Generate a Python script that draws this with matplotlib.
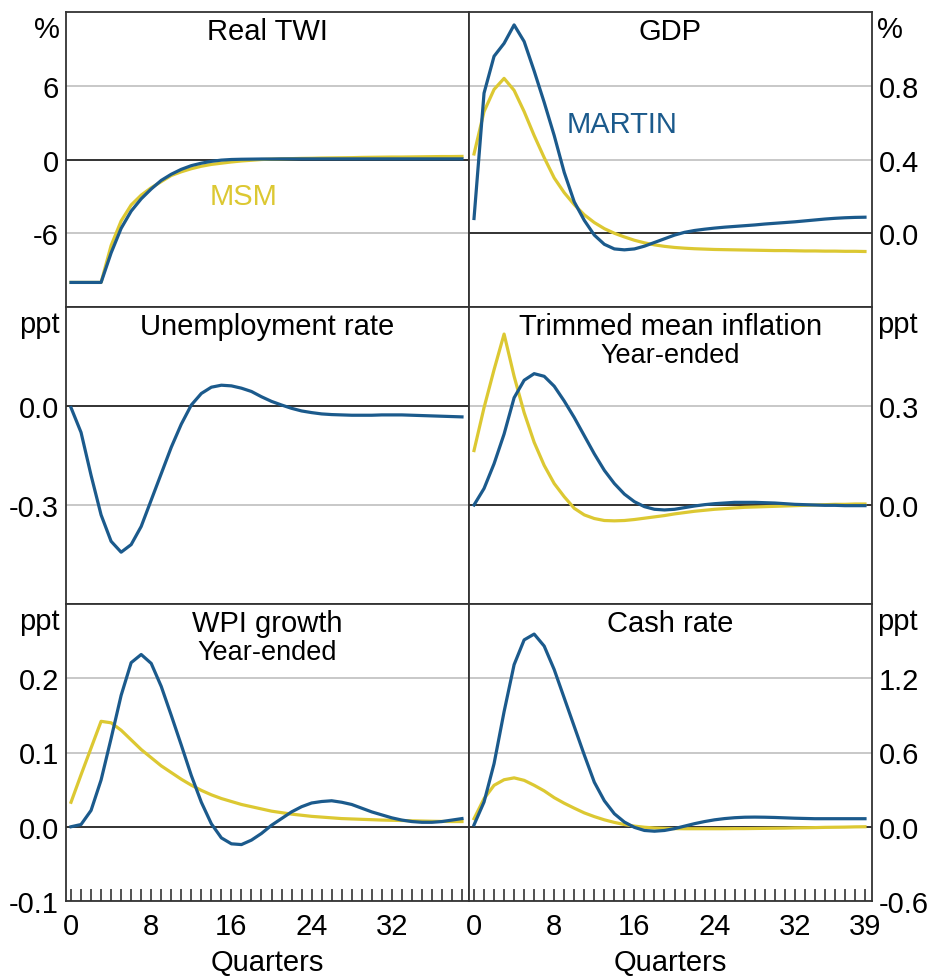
import numpy as np
import matplotlib
matplotlib.use("Agg")
import matplotlib.pyplot as plt

plt.rcParams['font.family'] = ['Liberation Sans', 'DejaVu Sans']

# Quarters after the shock
quarters = list(range(40))

# Real TWI (%)
twi_martin = [-10.0, -10.0, -10.0, -10.0, -7.6, -5.6, -4.2, -3.2, -2.4, -1.7,
              -1.2, -0.8, -0.5, -0.3, -0.15, -0.05, 0.0, 0.02, 0.03, 0.04,
              0.04, 0.05, 0.05, 0.05, 0.05, 0.05, 0.05, 0.05, 0.05, 0.05,
              0.05, 0.05, 0.05, 0.05, 0.05, 0.05, 0.05, 0.05, 0.05, 0.05]
twi_msm = [-10.0, -10.0, -10.0, -10.0, -7.0, -5.0, -3.7, -2.9, -2.3, -1.8,
           -1.3, -1.0, -0.75, -0.55, -0.4, -0.3, -0.2, -0.12, -0.06, 0.0,
           0.03, 0.05, 0.07, 0.09, 0.1, 0.12, 0.13, 0.14, 0.15, 0.17,
           0.18, 0.19, 0.2, 0.2, 0.21, 0.22, 0.23, 0.24, 0.24, 0.25]

# GDP (%)
gdp_martin = [0.08, 0.76, 0.96, 1.03, 1.13, 1.04, 0.88, 0.71, 0.53, 0.33,
              0.17, 0.07, -0.01, -0.06, -0.085, -0.09, -0.085, -0.07, -0.05, -0.03,
              -0.01, 0.005, 0.015, 0.022, 0.028, 0.033, 0.037, 0.041, 0.045, 0.05,
              0.054, 0.058, 0.062, 0.067, 0.072, 0.077, 0.081, 0.084, 0.086, 0.087]
gdp_msm = [0.43, 0.66, 0.78, 0.84, 0.775, 0.66, 0.53, 0.41, 0.3, 0.22,
           0.155, 0.1, 0.058, 0.025, 0.0, -0.02, -0.038, -0.052, -0.063, -0.071,
           -0.077, -0.081, -0.084, -0.086, -0.088, -0.089, -0.09, -0.091, -0.092, -0.093,
           -0.094, -0.094, -0.095, -0.096, -0.096, -0.097, -0.097, -0.098, -0.098, -0.099]

# Unemployment rate (ppt)
unemp_martin = [-0.005, -0.08, -0.21, -0.33, -0.41, -0.443, -0.42, -0.365, -0.285, -0.205,
                -0.125, -0.055, 0.003, 0.038, 0.057, 0.063, 0.061, 0.054, 0.044, 0.028,
                0.014, 0.003, -0.007, -0.015, -0.02, -0.024, -0.026, -0.027, -0.028, -0.028,
                -0.028, -0.027, -0.027, -0.027, -0.028, -0.029, -0.03, -0.031, -0.032, -0.033]

# Trimmed mean inflation, year-ended (ppt)
infl_martin = [0.0, 0.05, 0.125, 0.215, 0.325, 0.378, 0.398, 0.39, 0.36, 0.315,
               0.265, 0.21, 0.155, 0.105, 0.065, 0.033, 0.01, -0.005, -0.013, -0.015,
               -0.013, -0.008, -0.003, 0.001, 0.004, 0.006, 0.008, 0.008, 0.008, 0.007,
               0.006, 0.004, 0.002, 0.001, 0.0, -0.001, -0.001, -0.002, -0.002, -0.002]
infl_msm = [0.165, 0.295, 0.41, 0.518, 0.39, 0.28, 0.19, 0.12, 0.065, 0.025,
            -0.01, -0.03, -0.041, -0.047, -0.048, -0.047, -0.044, -0.04, -0.036, -0.032,
            -0.027, -0.023, -0.019, -0.016, -0.013, -0.011, -0.009, -0.007, -0.006, -0.005,
            -0.004, -0.003, -0.002, -0.001, 0.0, 0.001, 0.002, 0.002, 0.003, 0.003]

# WPI growth, year-ended (ppt)
wpi_martin = [0.0, 0.003, 0.022, 0.063, 0.119, 0.177, 0.221, 0.232, 0.22, 0.189,
              0.15, 0.11, 0.069, 0.033, 0.004, -0.015, -0.023, -0.024, -0.018, -0.009,
              0.002, 0.011, 0.02, 0.027, 0.032, 0.034, 0.035, 0.033, 0.03, 0.025,
              0.02, 0.016, 0.012, 0.009, 0.007, 0.006, 0.006, 0.007, 0.009, 0.011]
wpi_msm = [0.033, 0.07, 0.106, 0.142, 0.14, 0.13, 0.117, 0.104, 0.093, 0.082,
           0.073, 0.064, 0.056, 0.049, 0.043, 0.038, 0.034, 0.03, 0.027, 0.024,
           0.021, 0.019, 0.017, 0.0155, 0.014, 0.013, 0.012, 0.011, 0.0105, 0.01,
           0.0095, 0.009, 0.0087, 0.0084, 0.008, 0.0077, 0.0074, 0.0072, 0.007, 0.007]

# Cash rate (ppt)
cash_martin = [0.015, 0.2, 0.51, 0.93, 1.31, 1.51, 1.557, 1.46, 1.27, 1.04,
               0.81, 0.58, 0.36, 0.21, 0.105, 0.038, -0.005, -0.03, -0.036, -0.03,
               -0.015, 0.005, 0.025, 0.042, 0.056, 0.066, 0.073, 0.077, 0.078, 0.077,
               0.075, 0.072, 0.069, 0.067, 0.065, 0.065, 0.065, 0.065, 0.065, 0.065]
cash_msm = [0.065, 0.227, 0.335, 0.38, 0.395, 0.375, 0.335, 0.29, 0.235, 0.19,
            0.15, 0.112, 0.082, 0.056, 0.035, 0.018, 0.005, -0.004, -0.01, -0.013,
            -0.015, -0.016, -0.016, -0.016, -0.016, -0.016, -0.015, -0.015, -0.014, -0.013,
            -0.012, -0.011, -0.009, -0.008, -0.007, -0.005, -0.004, -0.003, -0.001, 0.0]

BLUE = '#1b5a8c'
YELLOW = '#dcc832'
W, H = 929, 979
FS = 21

fig = plt.figure(figsize=(W / 100, H / 100), dpi=100)

# panel edges in pixels
col_x = [66, 469]
col_w = 403
row_top = [13, 308, 605]
row_h = [295, 297, 297]


def make_ax(row, col):
    left = col_x[col] / W
    bottom = 1 - (row_top[row] + row_h[row]) / H
    return fig.add_axes([left, bottom, col_w / W, row_h[row] / H])


panels = [
    # row, col, title, subtitle, unit, ylim, yticks, labels, martin, msm
    (0, 0, 'Real TWI', None, '%', (-12, 12), [-6, 0, 6], ['-6', '0', '6'], twi_martin, twi_msm),
    (0, 1, 'GDP', None, '%', (-0.4, 1.2), [0, 0.4, 0.8], ['0.0', '0.4', '0.8'], gdp_martin, gdp_msm),
    (1, 0, 'Unemployment rate', None, 'ppt', (-0.6, 0.3), [-0.3, 0], ['-0.3', '0.0'], unemp_martin, None),
    (1, 1, 'Trimmed mean inflation', 'Year-ended', 'ppt', (-0.3, 0.6), [0, 0.3], ['0.0', '0.3'], infl_martin, infl_msm),
    (2, 0, 'WPI growth', 'Year-ended', 'ppt', (-0.1, 0.3), [-0.1, 0, 0.1, 0.2], ['-0.1', '0.0', '0.1', '0.2'], wpi_martin, wpi_msm),
    (2, 1, 'Cash rate', None, 'ppt', (-0.6, 1.8), [-0.6, 0, 0.6, 1.2], ['-0.6', '0.0', '0.6', '1.2'], cash_martin, cash_msm),
]

axes = {}
for row, col, title, sub, unit, ylim, yticks, ylabels, martin, msm in panels:
    ax = make_ax(row, col)
    axes[(row, col)] = ax
    ax.set_xlim(-0.5, 39.7)
    ax.set_ylim(*ylim)
    for t in yticks:
        if t == 0:
            continue
        ax.axhline(t, color='#c4c4c4', lw=1.3, zorder=1)
    ax.axhline(0, color='#222222', lw=1.3, zorder=2)
    if msm is not None:
        ax.plot(quarters, msm, color=YELLOW, lw=2.3, zorder=3)
    ax.plot(quarters, martin, color=BLUE, lw=2.3, zorder=4)

    ax.set_yticks(yticks)
    ax.set_yticklabels(ylabels)
    ax.tick_params(axis='y', length=0, labelsize=FS, pad=5)
    if col == 1:
        ax.yaxis.tick_right()
        ax.tick_params(axis='y', length=0, labelsize=FS, pad=5,
                       labelleft=False, labelright=True)

    for s in ax.spines.values():
        s.set_color('#333333')
        s.set_linewidth(1.3)

    if row == 2:
        ax.set_xticks([0, 8, 16, 24, 32] if col == 0 else [0, 8, 16, 24, 32, 39])
        ax.set_xticks(quarters, minor=True)
        ax.tick_params(axis='x', which='both', direction='in', length=9,
                       width=1.1, color='#222222', labelsize=FS, pad=8)
        ax.set_xlabel('Quarters', fontsize=FS, labelpad=6)
    else:
        ax.set_xticks([])

    ax.text(0.5, 0.935, title, transform=ax.transAxes, ha='center',
            va='center', fontsize=FS)
    if sub is not None:
        ax.text(0.5, 0.84, sub, transform=ax.transAxes, ha='center',
                va='center', fontsize=19.5)

    # unit label where the top tick label would sit
    ytop = 1 - (row_top[row] + 3) / H
    if col == 0:
        fig.text(60 / W, ytop, unit, ha='right', va='top', fontsize=FS)
    else:
        fig.text(877 / W, ytop, unit, ha='left', va='top', fontsize=FS)

axes[(0, 0)].text(17.2, -3.0, 'MSM', color=YELLOW, fontsize=FS,
                  ha='center', va='center')
axes[(0, 1)].text(14.8, 0.59, 'MARTIN', color=BLUE, fontsize=FS,
                  ha='center', va='center')

fig.savefig('out.png', dpi=100)
